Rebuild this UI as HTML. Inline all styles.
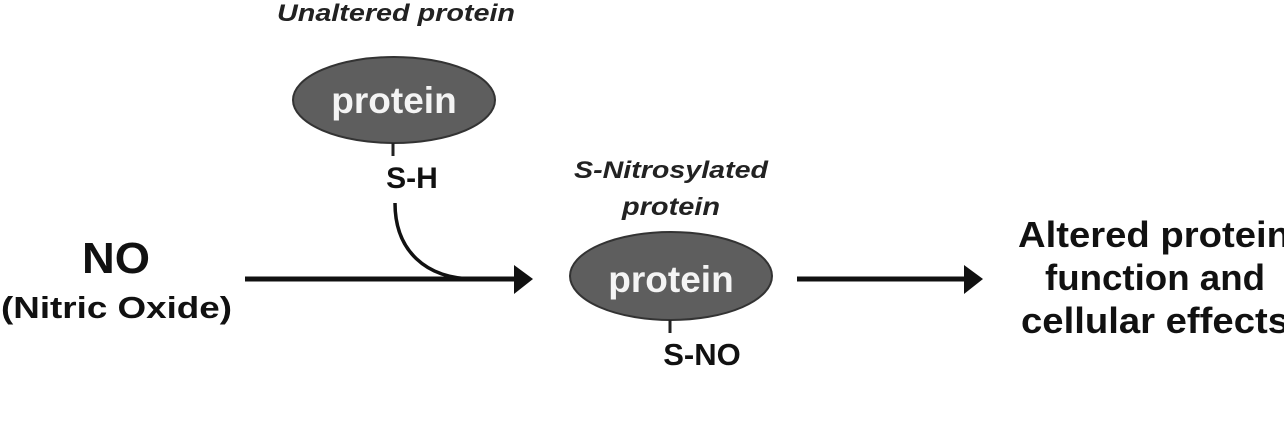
<!DOCTYPE html>
<html><head><style>
html,body{margin:0;padding:0;background:#fff;}
svg{display:block;}
text{font-family:"Liberation Sans",Arial,sans-serif;font-weight:bold;}
</style></head><body>
<svg width="1284" height="425" viewBox="0 0 1284 425">
<text x="277" y="21" font-size="24" font-style="italic" fill="#222" textLength="238" lengthAdjust="spacingAndGlyphs">Unaltered protein</text>
<ellipse cx="394" cy="100" rx="101" ry="43" fill="#5e5e5e" stroke="#333" stroke-width="2"/>
<text x="394" y="113" font-size="37" text-anchor="middle" fill="#f4f4f4">protein</text>
<line x1="393" y1="143" x2="393" y2="156" stroke="#222" stroke-width="3"/>
<text x="412" y="188" font-size="30" text-anchor="middle" fill="#111">S-H</text>
<path d="M395,203 C395,250 425,279 475,279" fill="none" stroke="#111" stroke-width="3.5"/>
<line x1="245" y1="279" x2="518" y2="279" stroke="#111" stroke-width="5"/>
<polygon points="514,265 533,279 514,294" fill="#111"/>
<text x="82" y="273" font-size="44" fill="#111" textLength="68" lengthAdjust="spacingAndGlyphs">NO</text>
<text x="1" y="318" font-size="31" fill="#111" textLength="231" lengthAdjust="spacingAndGlyphs">(Nitric Oxide)</text>
<text x="574" y="178" font-size="24" font-style="italic" fill="#222" textLength="194" lengthAdjust="spacingAndGlyphs">S-Nitrosylated</text>
<text x="622" y="215" font-size="25" font-style="italic" fill="#222" textLength="98" lengthAdjust="spacingAndGlyphs">protein</text>
<ellipse cx="671" cy="276" rx="101" ry="44" fill="#5e5e5e" stroke="#333" stroke-width="2"/>
<text x="671" y="292" font-size="37" text-anchor="middle" fill="#f4f4f4">protein</text>
<line x1="670" y1="320" x2="670" y2="333" stroke="#222" stroke-width="3"/>
<text x="702" y="365" font-size="31" text-anchor="middle" fill="#111">S-NO</text>
<line x1="797" y1="279" x2="968" y2="279" stroke="#111" stroke-width="5"/>
<polygon points="964,265 983,279 964,294" fill="#111"/>
<text x="1018" y="247" font-size="36" fill="#111" textLength="272" lengthAdjust="spacingAndGlyphs">Altered protein</text>
<text x="1045" y="290" font-size="36" fill="#111" textLength="220" lengthAdjust="spacingAndGlyphs">function and</text>
<text x="1021" y="333" font-size="36" fill="#111" textLength="268" lengthAdjust="spacingAndGlyphs">cellular effects</text>
</svg>
</body></html>
